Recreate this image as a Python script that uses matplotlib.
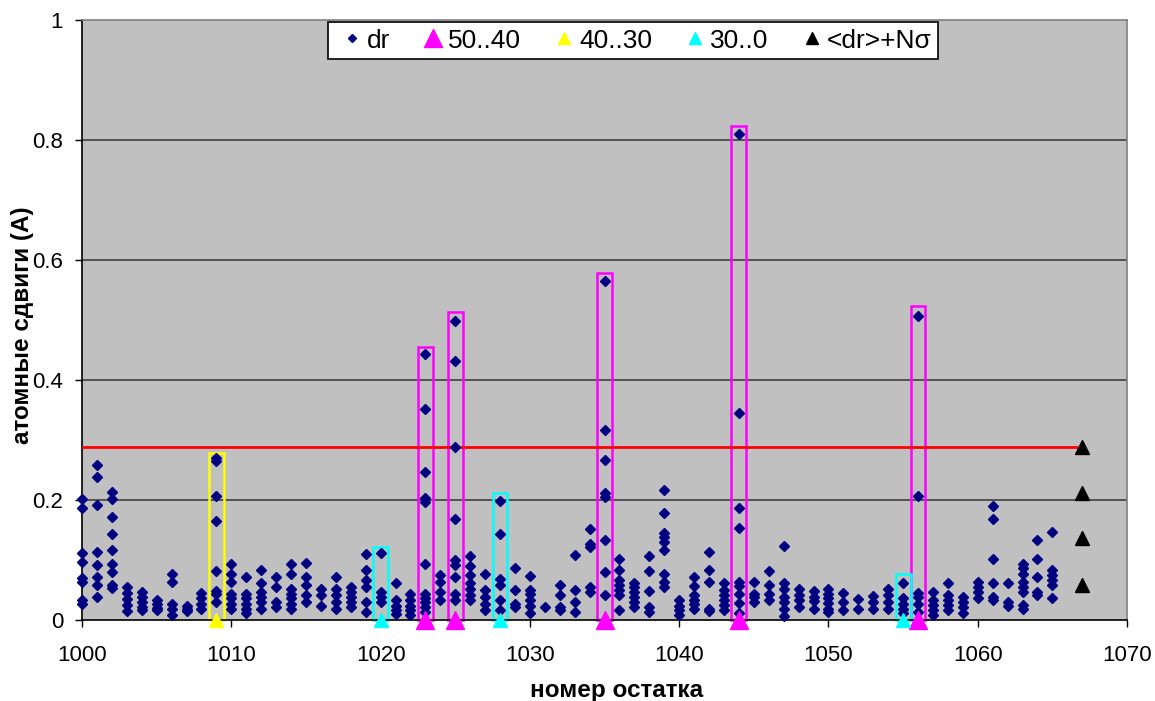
import matplotlib
matplotlib.use("Agg")
import matplotlib.pyplot as plt
from matplotlib.patches import Rectangle
from matplotlib.lines import Line2D

plt.rcParams['font.family'] = ['Liberation Sans', 'DejaVu Sans']

# ---- data ----
residues = list(range(1000, 1066))
dr_values = [
    [0.201, 0.187, 0.112, 0.096, 0.070, 0.063, 0.033, 0.027],          # 1000
    [0.259, 0.239, 0.191, 0.114, 0.092, 0.072, 0.059, 0.038],          # 1001
    [0.213, 0.201, 0.171, 0.143, 0.116, 0.093, 0.080, 0.059, 0.054],   # 1002
    [0.055, 0.045, 0.035, 0.025, 0.015],                               # 1003
    [0.047, 0.038, 0.030, 0.022, 0.016],                               # 1004
    [0.033, 0.026, 0.020, 0.016],                                      # 1005
    [0.076, 0.064, 0.026, 0.018, 0.008],                               # 1006
    [0.024, 0.019, 0.015],                                             # 1007
    [0.045, 0.036, 0.027, 0.019],                                      # 1008
    [0.270, 0.265, 0.207, 0.165, 0.082, 0.048, 0.044, 0.030],          # 1009
    [0.094, 0.076, 0.063, 0.044, 0.036, 0.027, 0.019],                 # 1010
    [0.072, 0.044, 0.036, 0.027, 0.019, 0.011],                        # 1011
    [0.083, 0.062, 0.047, 0.038, 0.030, 0.019],                        # 1012
    [0.072, 0.055, 0.030, 0.022],                                      # 1013
    [0.093, 0.076, 0.052, 0.044, 0.036, 0.027, 0.019],                 # 1014
    [0.095, 0.072, 0.058, 0.041, 0.030],                               # 1015
    [0.052, 0.041, 0.024],                                             # 1016
    [0.071, 0.052, 0.041, 0.030, 0.019],                               # 1017
    [0.055, 0.047, 0.038, 0.030, 0.022],                               # 1018
    [0.110, 0.083, 0.066, 0.055, 0.030, 0.013],                        # 1019
    [0.112, 0.047, 0.038, 0.030],                                      # 1020
    [0.061, 0.033, 0.024, 0.016, 0.010],                               # 1021
    [0.044, 0.033, 0.024, 0.016, 0.008],                               # 1022
    [0.443, 0.352, 0.247, 0.204, 0.197, 0.094, 0.044, 0.036, 0.030, 0.022, 0.013],  # 1023
    [0.075, 0.063, 0.047, 0.033],                                      # 1024
    [0.498, 0.432, 0.288, 0.169, 0.100, 0.091, 0.072, 0.044, 0.033],   # 1025
    [0.106, 0.090, 0.075, 0.061, 0.052, 0.041, 0.033],                 # 1026
    [0.077, 0.050, 0.038, 0.027, 0.016],                               # 1027
    [0.198, 0.143, 0.069, 0.058, 0.033, 0.016],                        # 1028
    [0.086, 0.050, 0.027, 0.022],                                      # 1029
    [0.074, 0.050, 0.044, 0.033, 0.024, 0.011],                        # 1030
    [0.022],                                                           # 1031
    [0.058, 0.041, 0.022, 0.016],                                      # 1032
    [0.108, 0.050, 0.030, 0.013],                                      # 1033
    [0.151, 0.127, 0.122, 0.055, 0.047],                               # 1034
    [0.565, 0.316, 0.266, 0.211, 0.205, 0.134, 0.080, 0.041],          # 1035
    [0.102, 0.084, 0.066, 0.058, 0.050, 0.041, 0.017],                 # 1036
    [0.062, 0.055, 0.047, 0.038, 0.030, 0.022],                        # 1037
    [0.107, 0.081, 0.048, 0.022, 0.013],                               # 1038
    [0.216, 0.179, 0.145, 0.138, 0.130, 0.116, 0.077, 0.063, 0.055],   # 1039
    [0.033, 0.024, 0.016, 0.008],                                      # 1040
    [0.071, 0.056, 0.042, 0.034, 0.026, 0.018],                        # 1041
    [0.113, 0.084, 0.063, 0.019, 0.015],                               # 1042
    [0.061, 0.050, 0.041, 0.033, 0.025, 0.016],                        # 1043
    [0.810, 0.345, 0.187, 0.153, 0.063, 0.056, 0.044, 0.028, 0.012],   # 1044
    [0.064, 0.044, 0.038, 0.030],                                      # 1045
    [0.081, 0.058, 0.044, 0.033],                                      # 1046
    [0.123, 0.062, 0.051, 0.038, 0.030, 0.019, 0.007],                 # 1047
    [0.051, 0.042, 0.033, 0.022],                                      # 1048
    [0.049, 0.039, 0.031, 0.019],                                      # 1049
    [0.052, 0.044, 0.036, 0.028, 0.019, 0.014],                        # 1050
    [0.045, 0.030, 0.017],                                             # 1051
    [0.035, 0.018],                                                    # 1052
    [0.040, 0.030, 0.019],                                             # 1053
    [0.051, 0.041, 0.030, 0.019],                                      # 1054
    [0.062, 0.036, 0.027, 0.019, 0.011],                               # 1055
    [0.507, 0.206, 0.045, 0.038, 0.026, 0.013],                        # 1056
    [0.047, 0.033, 0.025, 0.016, 0.008],                               # 1057
    [0.061, 0.041, 0.033, 0.025, 0.016],                               # 1058
    [0.039, 0.030, 0.022, 0.011],                                      # 1059
    [0.064, 0.055, 0.047, 0.036],                                      # 1060
    [0.190, 0.169, 0.101, 0.062, 0.038, 0.034],                        # 1061
    [0.061, 0.030, 0.024],                                             # 1062
    [0.093, 0.086, 0.077, 0.063, 0.055, 0.047, 0.025, 0.019],          # 1063
    [0.133, 0.102, 0.072, 0.047, 0.041],                               # 1064
    [0.147, 0.083, 0.075, 0.066, 0.058, 0.037],                        # 1065
]

# highlighted residues (triangles at 0, with boxes)
res_50_40 = [1023, 1025, 1035, 1044, 1056]
top_50_40 = [0.455, 0.513, 0.578, 0.823, 0.523]
res_40_30 = [1009]
top_40_30 = [0.279]
res_30_0 = [1020, 1028, 1055]
top_30_0 = [0.121, 0.211, 0.076]

# <dr> + N sigma
sigma_x = [1067, 1067, 1067, 1067]
sigma_y = [0.289, 0.212, 0.136, 0.059]
threshold = 0.289
threshold_x = [1000, 1067]

x_ticks = [1000, 1010, 1020, 1030, 1040, 1050, 1060, 1070]
y_ticks = [0, 0.2, 0.4, 0.6, 0.8, 1.0]
y_ticklabels = ['0', '0.2', '0.4', '0.6', '0.8', '1']
legend_labels = ['dr', '50..40', '40..30', '30..0', '<dr>+Nσ']

# ---- figure ----
fig = plt.figure(figsize=(11.55, 7.01), dpi=100)
ax = fig.add_axes([82/1155, 81/701, (1127-82)/1155, 600/701])
ax.set_facecolor('#C0C0C0')
ax.set_xlim(1000, 1070)
ax.set_ylim(0, 1)

for y in y_ticks[1:-1]:
    ax.axhline(y, color='#404040', lw=1.2, zorder=1)

# boxes
def draw_boxes(xs, tops, color):
    for x, t in zip(xs, tops):
        ax.add_patch(Rectangle((x - 0.5, 0), 1.0, t, fill=False, edgecolor=color,
                               lw=1.8, zorder=2, clip_on=False))

draw_boxes(res_50_40, top_50_40, '#FF00FF')
draw_boxes(res_40_30, top_40_30, '#FFFF00')
draw_boxes(res_30_0, top_30_0, '#00FFFF')

# threshold line
ax.plot(threshold_x, [threshold, threshold], color='#FF0000', lw=2.0, zorder=3)

# dr points
xs, ys = [], []
for r, vals in zip(residues, dr_values):
    for v in vals:
        xs.append(r)
        ys.append(v)
ax.plot(xs, ys, linestyle='none', marker='D', ms=5, color='#000080',
        mec='#000080', zorder=4, clip_on=False)

ax.plot(res_50_40, [0]*len(res_50_40), linestyle='none', marker='^', ms=12.5,
        color='#FF00FF', zorder=5, clip_on=False)
ax.plot(res_40_30, [0]*len(res_40_30), linestyle='none', marker='^', ms=10.5,
        color='#FFFF00', zorder=5, clip_on=False)
ax.plot(res_30_0, [0]*len(res_30_0), linestyle='none', marker='^', ms=9.5,
        color='#00FFFF', zorder=5, clip_on=False)
ax.plot(sigma_x, sigma_y, linestyle='none', marker='^', ms=10,
        color='#000000', zorder=5, clip_on=False)

ax.set_xticks(x_ticks)
ax.set_yticks(y_ticks)
ax.set_yticklabels(y_ticklabels)
ax.tick_params(axis='both', labelsize=16, direction='out', length=5, width=1,
               colors='black')
ax.tick_params(axis='x', pad=13)
ax.tick_params(axis='y', pad=8.5)

for side in ['left', 'bottom']:
    ax.spines[side].set_color('black')
    ax.spines[side].set_linewidth(1.2)
for side in ['top', 'right']:
    ax.spines[side].set_color('#808080')
    ax.spines[side].set_linewidth(1.2)

ax.set_xlabel('номер остатка', fontsize=17.5, fontweight='bold')
ax.set_ylabel('атомные сдвиги (A)', fontsize=17.5, fontweight='bold')
ax.xaxis.set_label_coords((616.5 - 82) / 1045, (620 - 690) / 600)
ax.xaxis.label.set_va('center')
ax.yaxis.set_label_coords((23 - 82) / 1045, (620 - 325) / 600)
ax.yaxis.label.set_va('center')
ax.yaxis.label.set_ha('center')

handles = [
    Line2D([], [], linestyle='none', marker='D', ms=4.5, color='#000080'),
    Line2D([], [], linestyle='none', marker='^', ms=13, color='#FF00FF'),
    Line2D([], [], linestyle='none', marker='^', ms=9, color='#FFFF00'),
    Line2D([], [], linestyle='none', marker='^', ms=8.5, color='#00FFFF'),
    Line2D([], [], linestyle='none', marker='^', ms=8, color='#000000'),
]
leg = ax.legend(handles, legend_labels, ncol=5, loc='upper left',
                bbox_to_anchor=(328/1155, 1 - 22/701), bbox_transform=fig.transFigure,
                fontsize=19, frameon=True, fancybox=False, framealpha=1,
                edgecolor='black', handlelength=1.29, handletextpad=-0.08,
                columnspacing=0.99, borderpad=0.25, borderaxespad=0)
leg.get_frame().set_linewidth(1.2)
leg.set_zorder(10)

fig.savefig('out.png', dpi=100)
